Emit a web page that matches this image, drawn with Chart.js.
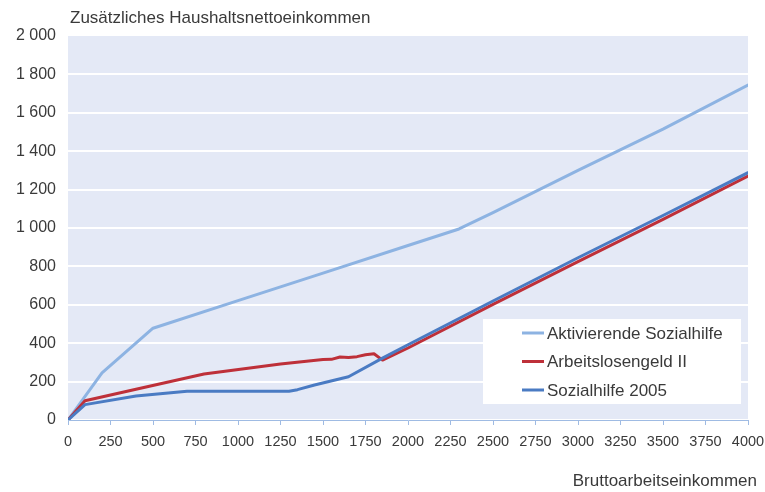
<!DOCTYPE html>
<html>
<head>
<meta charset="utf-8">
<script src="https://cdn.jsdelivr.net/npm/chart.js@4"></script>
<style>
  html, body { margin:0; padding:0; background:#fff; }
  #wrap { width:765px; height:492px; position:relative; }
</style>
</head>
<body>
<div id="wrap"><canvas id="chart" width="765" height="492"></canvas></div>
<script>
// series: [Bruttoarbeitseinkommen, Zusätzliches Haushaltsnettoeinkommen]
const aktivierendeX = [0, 200, 500, 1000, 1500, 2000, 2300, 2500, 3000, 3500, 4000];
const aktivierendeY = [0, 245, 478, 622, 765, 909, 995, 1080, 1300, 1515, 1745];

const alg2X = [0, 100, 400, 800, 1250, 1500, 1550, 1600, 1650, 1700, 1750, 1800, 1850, 2000, 2500, 3000, 3500, 4000];
const alg2Y = [0, 100, 160, 240, 292, 315, 316, 328, 325, 330, 340, 345, 312, 375, 602, 825, 1045, 1270];

const sh2005X = [0, 100, 400, 700, 1000, 1300, 1350, 1450, 1650, 1850, 2000, 2500, 3000, 3500, 4000];
const sh2005Y = [0, 80, 125, 150, 150, 150, 158, 182, 225, 322, 392, 620, 845, 1065, 1288];

const seriesNames = ["Aktivierende Sozialhilfe", "Arbeitslosengeld II", "Sozialhilfe 2005"];
const seriesColors = ["#8db3e2", "#be3039", "#4a7bc3"];

const yAxisTitle = "Zusätzliches Haushaltsnettoeinkommen";
const xAxisTitle = "Bruttoarbeitseinkommen";

const FONT = "'Liberation Sans', Arial, sans-serif";
const TXT = "#3a3a3a";

function pts(xs, ys){ return xs.map((x, i) => ({ x: x, y: ys[i] })); }

function fmtThousands(v){
  return String(v).replace(/\B(?=(\d{3})+(?!\d))/g, " ");
}

const plotBg = {
  id: "plotBg",
  beforeDraw(chart){
    const { ctx, chartArea: a } = chart;
    ctx.save();
    ctx.fillStyle = "#e4e9f6";
    ctx.fillRect(a.left, a.top, a.right - a.left, a.bottom - a.top);
    ctx.restore();
  }
};

const extras = {
  id: "extras",
  afterDraw(chart){
    const { ctx } = chart;
    ctx.save();
    ctx.font = "17px " + FONT;
    ctx.fillStyle = TXT;
    ctx.textBaseline = "alphabetic";
    ctx.textAlign = "left";
    ctx.fillText(yAxisTitle, 70, 23);
    ctx.textAlign = "right";
    ctx.fillText(xAxisTitle, 757, 486);

    // legend box
    const bx = 483, by = 319, bw = 258, bh = 85;
    ctx.fillStyle = "#ffffff";
    ctx.fillRect(bx, by, bw, bh);
    ctx.textAlign = "left";
    ctx.textBaseline = "middle";
    seriesNames.forEach((n, i) => {
      const yy = by + 14 + i * 28.5;
      ctx.strokeStyle = seriesColors[i];
      ctx.lineWidth = 3;
      ctx.beginPath();
      ctx.moveTo(522, yy);
      ctx.lineTo(544, yy);
      ctx.stroke();
      ctx.fillStyle = TXT;
      ctx.fillText(n, 547, yy + 1);
    });
    ctx.restore();
  }
};

const ctx = document.getElementById("chart");
const chart = new Chart(ctx, {
  type: "line",
  data: {
    datasets: [
      { label: seriesNames[0], data: pts(aktivierendeX, aktivierendeY), borderColor: seriesColors[0], order: 3 },
      { label: seriesNames[1], data: pts(alg2X, alg2Y), borderColor: seriesColors[1], order: 2 },
      { label: seriesNames[2], data: pts(sh2005X, sh2005Y), borderColor: seriesColors[2], order: 1 }
    ]
  },
  options: {
    responsive: false,
    animation: false,
    elements: {
      line: { borderWidth: 3, tension: 0, borderCapStyle: "round", borderJoinStyle: "round" },
      point: { radius: 0 }
    },
    layout: { padding: { left: 0, right: 17, top: 36, bottom: 0 } },
    plugins: { legend: { display: false }, tooltip: { enabled: false } },
    scales: {
      x: {
        type: "linear", min: 0, max: 4000,
        ticks: { stepSize: 250, color: TXT, font: { family: FONT, size: 14.5 }, padding: 8, maxRotation: 0, autoSkip: false,
                 callback: v => String(v) },
        grid: { drawOnChartArea: false, drawTicks: true, tickLength: 5, tickColor: "#9fbbe3" },
        border: { color: "#9fbbe3", width: 1 },
        afterFit(s){ s.height = 72; s.paddingRight = 0; s.paddingLeft = 0; }
      },
      y: {
        min: 0, max: 2000,
        ticks: { stepSize: 200, color: TXT, font: { family: FONT, size: 16 }, padding: 12, callback: v => fmtThousands(v) },
        grid: { color: c => c.tick && c.tick.value === 2000 ? "rgba(0,0,0,0)" : "#ffffff", lineWidth: 2, drawTicks: false },
        border: { display: false },
        afterFit(s){ s.width = 68; s.paddingTop = 0; s.paddingBottom = 0; }
      }
    }
  },
  plugins: [plotBg, extras]
});
</script>
</body>
</html>
